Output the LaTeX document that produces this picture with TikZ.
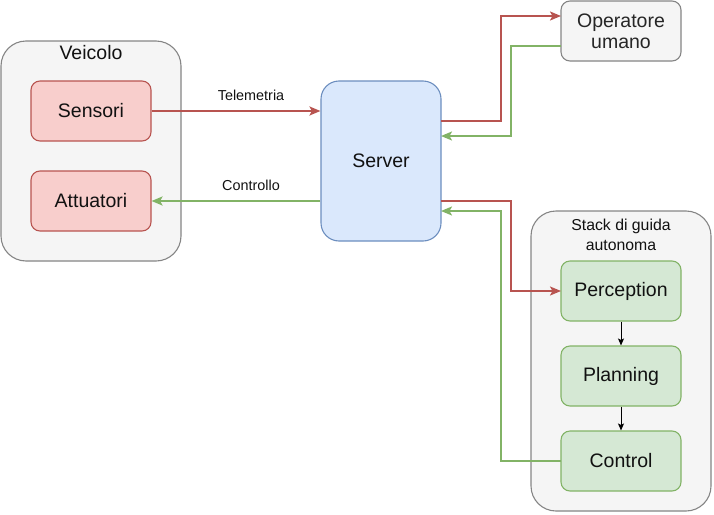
\documentclass[tikz,border=0pt]{standalone}
\usepackage{fontspec}
\setmainfont{Liberation Sans}
\usetikzlibrary{arrows.meta}
\definecolor{redS}{HTML}{B85450}
\definecolor{redF}{HTML}{F8CECC}
\definecolor{grnS}{HTML}{82B366}
\definecolor{grnF}{HTML}{D5E8D4}
\definecolor{bluS}{HTML}{6C8EBF}
\definecolor{bluF}{HTML}{DAE8FC}
\definecolor{gryS}{HTML}{666666}
\definecolor{gryF}{HTML}{F5F5F5}
\definecolor{txt}{HTML}{111111}
\begin{document}
\begin{tikzpicture}[x=1pt,y=-1pt,
  box/.style={draw, line width=1.1pt, rounded corners=#1, inner sep=0pt},
  redbox/.style={box=9pt, draw=redS, fill=redF, minimum width=120pt, minimum height=60pt, font=\fontsize{19.5}{22}\selectfont, text=txt},
  grnbox/.style={box=9pt, draw=grnS, fill=grnF, minimum width=120pt, minimum height=60pt, font=\fontsize{19.5}{22}\selectfont, text=txt},
  container/.style={draw=gryS!80, fill=gryF, line width=1.1pt, rounded corners=#1},
  redarr/.style={draw=redS, line width=2pt, -{Stealth[length=11pt,width=9pt,inset=2.5pt]}},
  grnarr/.style={draw=grnS, line width=2pt, -{Stealth[length=11pt,width=9pt,inset=2.5pt]}},
  blkarr/.style={draw=black, line width=1pt, -{Stealth[length=7pt,width=6pt,inset=1.5pt]}},
  lbl/.style={font=\fontsize{14.4}{16}\selectfont, text=txt, inner sep=0pt},
  ttl/.style={font=\fontsize{19.5}{22}\selectfont, text=txt, inner sep=0pt},
]
\useasboundingbox (0,0) rectangle (714,514);
% containers
\path[container=25pt] (1,41) rectangle (181,261);
\node[ttl] (veicolo) at (91,53) {Veicolo};
\path[container=25pt] (531,211) rectangle (711,511);
\node[font=\fontsize{15.8}{19.5}\selectfont, text=txt, align=center, inner sep=0pt] (stack) at (621,235) {Stack di guida\\autonoma};
% nodes
\node[redbox] (sens) at (91,111) {Sensori};
\node[redbox] (attu) at (91,201) {Attuatori};
\node[box=18pt, draw=bluS, fill=bluF, minimum width=120pt, minimum height=160pt, font=\fontsize{19.5}{22}\selectfont, text=txt] (server) at (381,161) {Server};
\node[box=9pt, draw=gryS!80, fill=gryF, minimum width=120pt, minimum height=60pt, font=\fontsize{19.5}{22}\selectfont, text=txt!75!gryS, align=center] (oper) at (621,31) {Operatore\\[-1pt]umano};
\node[grnbox] (perc) at (621,291) {Perception};
\node[grnbox] (plan) at (621,376) {Planning};
\node[grnbox] (ctrl) at (621,461) {Control};
% coordinates
\coordinate (s1) at (441,121);
\coordinate (s2) at (441,136);
\coordinate (s3) at (441,201);
\coordinate (s4) at (441,211);
\coordinate (o1) at (561,16);
\coordinate (o2) at (561,46);
\coordinate (p1) at (561,291);
\coordinate (c1) at (561,461);
% edges
\draw[redarr] (sens.east) -- (server.west |- sens.east);
\node[lbl] (tele) at (251,95) {Telemetria};
\draw[grnarr] (server.west |- attu.east) -- (attu.east);
\node[lbl] (contr) at (251,185) {Controllo};
\draw[redarr] (s1) -- (501,121) -- (501,16) -- (o1);
\draw[grnarr] (o2) -- (511,46) -- (511,136) -- (s2);
\draw[redarr] (s3) -- (511,201) -- (511,291) -- (p1);
\draw[grnarr] (c1) -- (501,461) -- (501,211) -- (s4);
\draw[blkarr] (perc.south) -- (plan.north);
\draw[blkarr] (plan.south) -- (ctrl.north);
\end{tikzpicture}
\end{document}
